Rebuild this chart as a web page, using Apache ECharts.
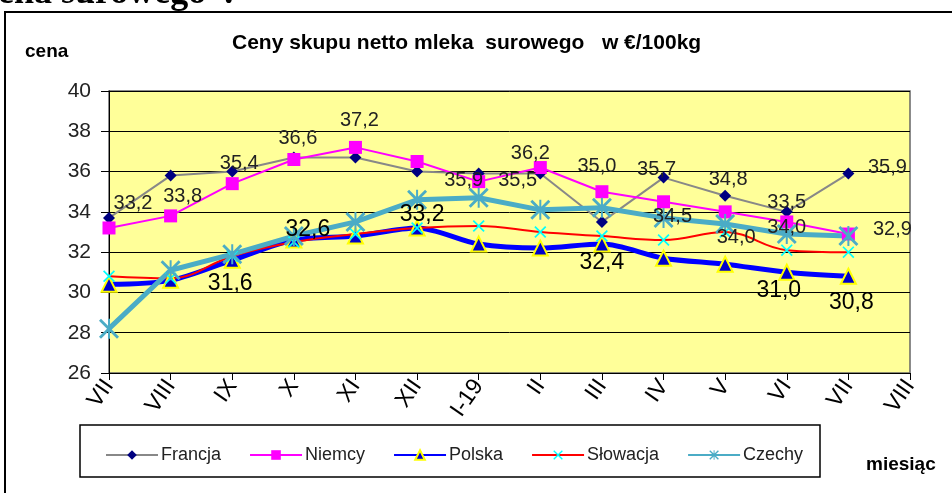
<!DOCTYPE html>
<html>
<head>
<meta charset="utf-8">
<script src="https://cdn.jsdelivr.net/npm/echarts@6/dist/echarts.min.js"></script>
<style>
  html, body { margin: 0; padding: 0; background: #fff; }
  #chart { width: 952px; height: 493px; }
</style>
</head>
<body>
<div id="chart"></div>
<script>
// miesiące na osi X (ostatni VIII bez danych)
const months = ['VII', 'VIII', 'IX', 'X', 'XI', 'XII', 'I-19', 'II', 'III', 'IV', 'V', 'VI', 'VII', 'VIII'];
const yTicks = [26, 28, 30, 32, 34, 36, 38, 40];

const francja = [33.7, 35.8, 36.0, 36.7, 36.7, 36.0, 35.9, 35.9, 33.5, 35.7, 34.8, 34.0, 35.9];
const niemcy = [33.2, 33.8, 35.4, 36.6, 37.2, 36.5, 35.5, 36.2, 35.0, 34.5, 34.0, 33.5, 32.9];
const polska = [30.4, 30.6, 31.6, 32.6, 32.8, 33.2, 32.4, 32.2, 32.4, 31.7, 31.4, 31.0, 30.8];
const slowacja = [30.8, 30.7, 31.8, 32.5, 32.9, 33.2, 33.3, 33.0, 32.8, 32.6, 33.0, 32.1, 32.0];
const czechy = [28.2, 31.1, 31.9, 32.8, 33.5, 34.6, 34.7, 34.1, 34.2, 33.7, 33.4, 32.9, 32.8];

// gdzie stoją etykiety wartości (indeks punktu -> przesunięcie)
const labelPos = {
    Francja: { 6: [-15, 7], 9: [-7, -8], 10: [3, -16], 11: [0, 16], 12: [39, -6] },
    Niemcy: { 0: [24, -24], 1: [12, -19], 2: [7, -20], 3: [4, -21], 4: [4, -27], 6: [39, -1],
              7: [-10, -14], 8: [-5, -25], 9: [9, 15], 10: [11, 26], 11: [0, -19], 12: [44, -5] },
    Polska: { 2: [-2, 23], 3: [14, -10], 5: [5, -13], 8: [0, 19], 11: [-8, 18], 12: [3, 26] }
};

const FONT = 'Liberation Sans, Arial, sans-serif';
const fmt = v => v.toFixed(1).replace('.', ',');

function withLabels(name, values, size, color) {
    const pos = labelPos[name] || {};
    return values.map((v, i) => {
        if (!pos[i]) return v;
        return {
            value: v,
            label: {
                show: true, position: 'inside', offset: pos[i],
                formatter: fmt(v), fontSize: size, color: color, fontFamily: FONT
            }
        };
    });
}

const xPath = 'path://M0,1L1,0L5,4L9,0L10,1L6,5L10,9L9,10L5,6L1,10L0,9L4,5Z';
const starPath = 'path://M0,1L1,0L5,4L9,0L10,1L6,5L10,9L9,10L5,6L1,10L0,9L4,5Z M4.5,0L5.5,0L5.5,10L4.5,10Z';

let myChart = echarts.init(document.getElementById('chart'));
let option = {
    backgroundColor: '#fff',
    animation: false,
    graphic: [
        { type: 'rect', shape: { x: 5, y: 12, width: 1000, height: 600 },
          style: { fill: 'none', stroke: '#000', lineWidth: 2 } },
        { type: 'text', left: -2, top: -24,
          style: { text: 'ena surowego”.', font: 'bold 36px "Liberation Serif", serif', fill: '#000' } },
        { type: 'text', left: 232, top: 33,
          style: { text: 'Ceny skupu netto mleka  surowego   w €/100kg', font: 'bold 21px ' + FONT, fill: '#000' } },
        { type: 'text', left: 25, top: 42,
          style: { text: 'cena', font: 'bold 19px ' + FONT, fill: '#000' } },
        { type: 'text', left: 866, top: 455,
          style: { text: 'miesiąc', font: 'bold 19px ' + FONT, fill: '#000' } },
        { type: 'rect', shape: { x: 80, y: 425, width: 740, height: 52 },
          style: { fill: 'none', stroke: '#000', lineWidth: 1.5 } }
    ],
    grid: {
        left: 109, right: 42, top: 91, bottom: 120,
        show: true, backgroundColor: '#FFFF99', borderColor: '#666', borderWidth: 1.5
    },
    legend: {
        left: 100, top: 441,
        itemWidth: 52, itemHeight: 12, itemGap: 28,
        textStyle: { fontSize: 18, color: '#222', fontFamily: FONT, padding: [0, 0, 0, -2] },
        data: ['Francja', 'Niemcy', 'Polska', 'Słowacja', 'Czechy']
    },
    xAxis: {
        type: 'category',
        data: months,
        boundaryGap: false,
        axisLine: { lineStyle: { color: '#000', width: 1 } },
        axisTick: { show: true, length: 7, lineStyle: { color: '#000' } },
        axisLabel: { rotate: 55, fontSize: 23, color: '#000', margin: 9, fontFamily: FONT, interval: 0 }
    },
    yAxis: {
        type: 'value',
        min: yTicks[0], max: yTicks[yTicks.length - 1], interval: 2,
        axisLine: { show: true, lineStyle: { color: '#000', width: 1 } },
        axisTick: { show: true, length: 8, lineStyle: { color: '#000' } },
        axisLabel: { fontSize: 21, color: '#222', margin: 18, fontFamily: FONT },
        splitLine: { lineStyle: { color: '#000', width: 1 } }
    },
    series: [
        {
            name: 'Francja', type: 'line',
            data: withLabels('Francja', francja, 20, '#222'),
            symbol: 'diamond', symbolSize: 12,
            lineStyle: { color: '#888', width: 2 },
            itemStyle: { color: '#000080' }
        },
        {
            name: 'Niemcy', type: 'line',
            data: withLabels('Niemcy', niemcy, 20, '#222'),
            symbol: 'rect', symbolSize: 13,
            lineStyle: { color: '#FF00FF', width: 2 },
            itemStyle: { color: '#FF00FF' }
        },
        {
            name: 'Polska', type: 'line', smooth: 0.3,
            data: withLabels('Polska', polska, 23, '#000'),
            symbol: 'triangle', symbolSize: 15,
            lineStyle: { color: '#0000FF', width: 5 },
            itemStyle: { color: '#0000CC', borderColor: '#FFFF00', borderWidth: 2 }
        },
        {
            name: 'Słowacja', type: 'line', smooth: 0.4,
            data: slowacja,
            symbol: xPath, symbolSize: 12,
            lineStyle: { color: '#FF0000', width: 2 },
            itemStyle: { color: '#00FFFF' }
        },
        {
            name: 'Czechy', type: 'line',
            data: czechy,
            symbol: starPath, symbolSize: 20,
            lineStyle: { color: '#4BACC6', width: 5 },
            itemStyle: { color: '#4BACC6' }
        }
    ]
};

option && myChart.setOption(option);
</script>
</body>
</html>
